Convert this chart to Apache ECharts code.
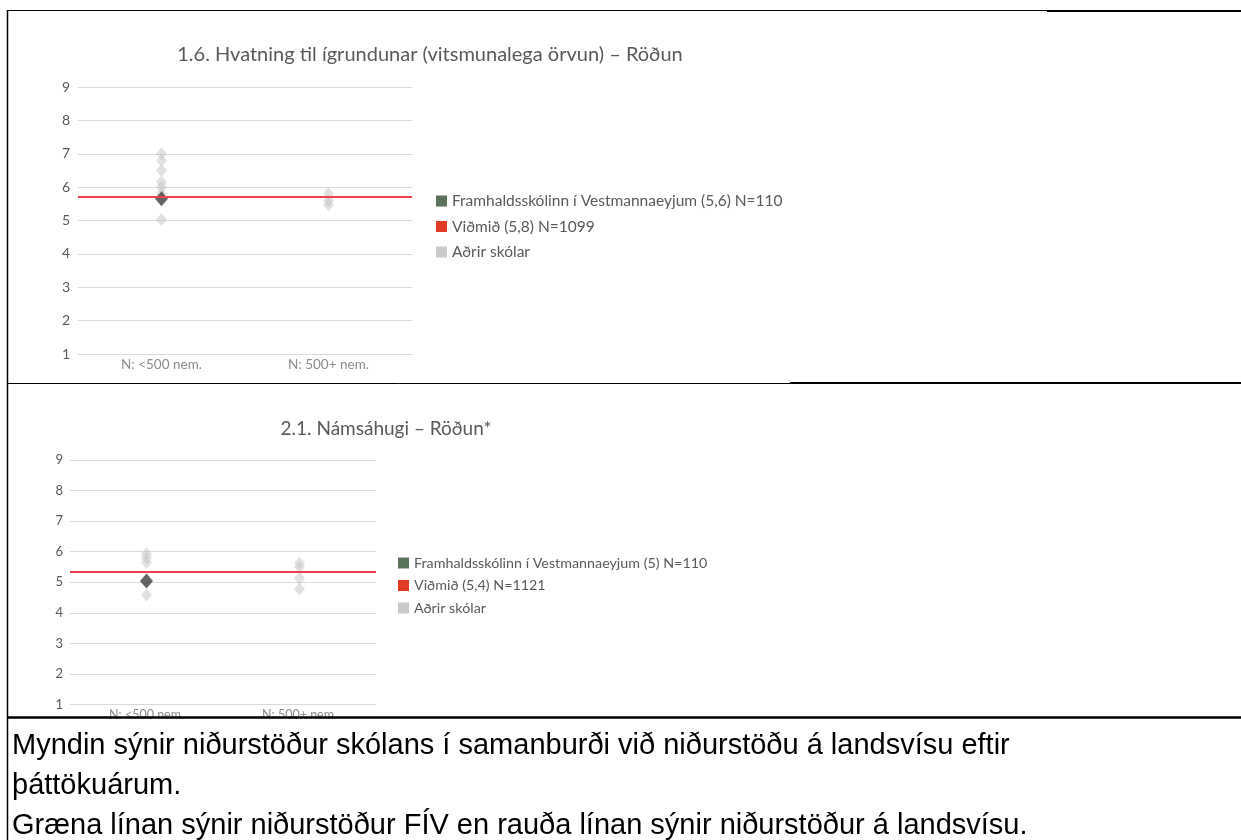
<!DOCTYPE html>
<html>
<head>
<meta charset="utf-8">
<script src="https://cdn.jsdelivr.net/npm/echarts@6/dist/echarts.min.js"></script>
<style>
  html, body { margin: 0; padding: 0; background: #fff; }
  #chart { position: absolute; left: 0; top: 0; width: 1241px; height: 840px; }
  .note {
    position: absolute; left: 12px; top: 724px; width: 1225px;
    font-family: "Liberation Sans", Arial, sans-serif; font-size: 29px;
    line-height: 40px; color: #000; white-space: nowrap;
  }
</style>
</head>
<body>
<div id="chart"></div>
<div class="note">
  Myndin sýnir niðurstöður skólans í samanburði við niðurstöðu á landsvísu eftir<br>
  þáttökuárum.<br>
  Græna línan sýnir niðurstöður FÍV en rauða línan sýnir niðurstöður á landsvísu.
</div>
<script>
const categories = ['N: <500 nem.', 'N: 500+ nem.'];

// 1.6 Hvatning til ígrundunar
const title1 = '1.6. Hvatning til ígrundunar (vitsmunalega örvun) – Röðun';
const schoolName1 = 'Framhaldsskólinn í Vestmannaeyjum (5,6) N=110';
const benchName1 = 'Viðmið (5,8) N=1099';
const others1 = [[0, 7.0], [0, 6.8], [0, 6.5], [0, 6.15], [0, 6.0], [0, 5.8], [0, 5.03], [1, 5.8], [1, 5.6], [1, 5.47]];
const school1 = [[0, 5.65]];
const bench1 = 5.72;

// 2.1 Námsáhugi
const title2 = '2.1. Námsáhugi – Röðun*';
const schoolName2 = 'Framhaldsskólinn í Vestmannaeyjum (5) N=110';
const benchName2 = 'Viðmið (5,4) N=1121';
const others2 = [[0, 5.93], [0, 5.8], [0, 5.65], [0, 4.58], [1, 5.62], [1, 5.5], [1, 5.13], [1, 4.78]];
const school2 = [[0, 5.04]];
const bench2 = 5.34;

const otherName = 'Aðrir skólar';
const font = 'Lato, "Noto Sans", sans-serif';
const textColor = '#595959';

function xAxisFor(i, size) {
  return {
    type: 'category', gridIndex: i, data: categories,
    axisLine: { show: false }, axisTick: { show: false },
    axisLabel: { color: '#8c8c8c', fontSize: size, fontFamily: font, margin: 4 }
  };
}

function yAxisFor(i, size, margin) {
  return {
    type: 'value', gridIndex: i, min: 1, max: 9, interval: 1,
    axisLine: { show: false }, axisTick: { show: false },
    axisLabel: { color: textColor, fontSize: size, fontFamily: font, margin: margin },
    splitLine: { lineStyle: { color: '#d9d9d9', width: 1 } }
  };
}

function seriesFor(i, others, school, bench, schoolName, benchName) {
  return [
    {
      name: otherName, type: 'scatter', xAxisIndex: i, yAxisIndex: i, z: 2,
      symbol: 'diamond', symbolSize: [11, 13], data: others,
      itemStyle: { color: 'rgba(195, 195, 195, 0.6)' }
    },
    {
      name: benchName, type: 'line', xAxisIndex: i, yAxisIndex: i, z: 3,
      data: [], color: '#e8323c',
      markLine: {
        silent: true, symbol: 'none', label: { show: false },
        lineStyle: { color: '#f0404f', width: 2, type: 'solid' },
        data: [{ yAxis: bench }]
      }
    },
    {
      name: schoolName, type: 'scatter', xAxisIndex: i, yAxisIndex: i, z: 4,
      symbol: 'diamond', symbolSize: [13, 15], data: school,
      itemStyle: { color: '#3d3d3d' }
    }
  ];
}

function legendFor(left, top, size, gap, schoolName, benchName) {
  return {
    orient: 'vertical', left: left, top: top, padding: 0,
    itemWidth: 11, itemHeight: 11, itemGap: gap,
    icon: 'rect', selectedMode: false,
    textStyle: { color: textColor, fontSize: size, fontFamily: font },
    data: [
      { name: schoolName, itemStyle: { color: '#2f4f2f' } },
      { name: benchName, itemStyle: { color: '#e03a22' } },
      { name: otherName, itemStyle: { color: '#bdbdbd' } }
    ]
  };
}

const border = { stroke: '#000', lineWidth: 1.5 };
const chart = echarts.init(document.getElementById('chart'));
chart.setOption({
  animation: false,
  title: [
    { text: title1, left: 425, top: 40, textAlign: 'center',
      textStyle: { color: textColor, fontSize: 20, fontWeight: 'normal', fontFamily: font } },
    { text: title2, left: 381, top: 414, textAlign: 'center',
      textStyle: { color: textColor, fontSize: 19, fontWeight: 'normal', fontFamily: font } }
  ],
  grid: [
    { left: 78, top: 87, width: 334, height: 267 },
    { left: 70, top: 460, width: 306, height: 244.5 }
  ],
  xAxis: [xAxisFor(0, 13.5), xAxisFor(1, 12.5)],
  yAxis: [yAxisFor(0, 14, 8), yAxisFor(1, 13, 7)],
  legend: [
    legendFor(436, 193, 15.5, 9.5, schoolName1, benchName1),
    legendFor(398, 556, 14.3, 8.5, schoolName2, benchName2)
  ],
  series: [
    ...seriesFor(0, others1, school1, bench1, schoolName1, benchName1),
    ...seriesFor(1, others2, school2, bench2, schoolName2, benchName2)
  ],
  graphic: [
    // table borders of the document around the two images
    { type: 'line', z: 10, shape: { x1: 7.5, y1: 10, x2: 7.5, y2: 840 }, style: border },
    { type: 'line', z: 10, shape: { x1: 7, y1: 10.5, x2: 1047, y2: 10.5 }, style: { stroke: '#000', lineWidth: 1 } },
    { type: 'line', z: 10, shape: { x1: 1047, y1: 11, x2: 1241, y2: 11 }, style: { stroke: '#000', lineWidth: 2 } },
    { type: 'line', z: 10, shape: { x1: 7, y1: 383.5, x2: 790, y2: 383.5 }, style: { stroke: '#000', lineWidth: 1 } },
    { type: 'line', z: 10, shape: { x1: 790, y1: 383, x2: 1241, y2: 383 }, style: { stroke: '#000', lineWidth: 2 } },
    { type: 'line', z: 10, shape: { x1: 7, y1: 717.5, x2: 1241, y2: 717.5 }, style: { stroke: '#000', lineWidth: 2.5 } },
    { type: 'rect', z: 9, shape: { x: 7, y: 718.8, width: 1234, height: 121 }, style: { fill: '#fff' } }
  ]
});
</script>
</body>
</html>
